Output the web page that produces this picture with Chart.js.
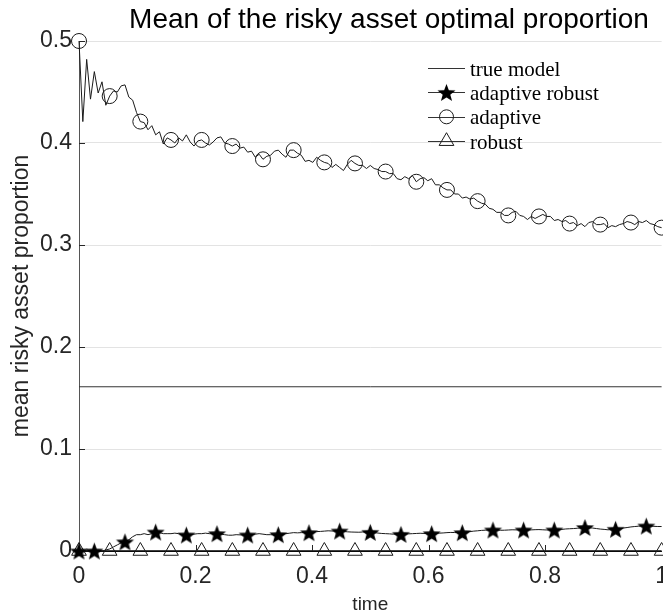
<!DOCTYPE html>
<html>
<head>
<meta charset="utf-8">
<title>Mean of the risky asset optimal proportion</title>
<script src="https://cdn.jsdelivr.net/npm/chart.js@4.4.0/dist/chart.umd.min.js"></script>
<style>
    html, body { margin: 0; padding: 0; background: #fff; overflow: hidden; }
    #wrap { width: 663px; height: 614px; overflow: hidden; }
    #myChart { display: block; }
</style>
</head>
<body>
<!-- the original figure is cropped on the right, through the last tick label -->
<div id="wrap"><canvas id="myChart" width="680" height="614"></canvas></div>
<script>
// sampling grid of the simulated paths, 152 steps over [0, 1]
var steps = 152;
var time = [];
for (var i = 0; i <= steps; i++) {
    time.push(i / steps);
}

var adaptive = [
    0.500, 0.421, 0.482, 0.443, 0.470, 0.449, 0.460, 0.437, 0.446, 0.451,
    0.450, 0.456, 0.457, 0.445, 0.442, 0.430, 0.421, 0.420, 0.413, 0.417,
    0.408, 0.411, 0.399, 0.405, 0.403, 0.400, 0.405, 0.402, 0.408, 0.401,
    0.397, 0.402, 0.403, 0.400, 0.398, 0.401, 0.405, 0.406, 0.400, 0.399,
    0.397, 0.399, 0.395, 0.396, 0.391, 0.392, 0.386, 0.389, 0.384, 0.387,
    0.388, 0.392, 0.393, 0.389, 0.386, 0.393, 0.393, 0.390, 0.388, 0.382,
    0.383, 0.381, 0.386, 0.383, 0.381, 0.380, 0.376, 0.379, 0.376, 0.373,
    0.379, 0.383, 0.380, 0.378, 0.378, 0.375, 0.378, 0.375, 0.374, 0.372,
    0.372, 0.370, 0.370, 0.365, 0.364, 0.367, 0.365, 0.368, 0.362, 0.365,
    0.366, 0.363, 0.365, 0.359, 0.359, 0.356, 0.354, 0.354, 0.350, 0.350,
    0.346, 0.347, 0.345, 0.346, 0.343, 0.341, 0.340, 0.336, 0.335, 0.332,
    0.332, 0.329, 0.329, 0.332, 0.333, 0.329, 0.328, 0.325, 0.328, 0.326,
    0.328, 0.330, 0.328, 0.328, 0.324, 0.325, 0.323, 0.324, 0.321, 0.322,
    0.319, 0.321, 0.318, 0.322, 0.323, 0.320, 0.320, 0.321, 0.317, 0.319,
    0.318, 0.320, 0.321, 0.323, 0.322, 0.320, 0.323, 0.322, 0.324, 0.321,
    0.320, 0.318, 0.317
];

var adaptiveRobust = [
    0, 0, 0, 0, 0, 0, 0, 0.001, 0.002, 0.004,
    0.006, 0.008, 0.009, 0.011, 0.014, 0.016, 0.016, 0.017, 0.016, 0.017,
    0.0186, 0.018, 0.017, 0.017, 0.017, 0.0175, 0.017, 0.016, 0.0157, 0.016,
    0.0165, 0.017, 0.017, 0.0175, 0.017, 0.017, 0.017, 0.0165, 0.016, 0.0155,
    0.0155, 0.016, 0.0158, 0.0157, 0.0157, 0.016, 0.0165, 0.017, 0.0165, 0.016,
    0.016, 0.0158, 0.016, 0.0165, 0.017, 0.0175, 0.018, 0.0178, 0.018, 0.0182,
    0.018, 0.0185, 0.019, 0.0192, 0.0195, 0.0198, 0.0196, 0.0194, 0.0196, 0.0192,
    0.0188, 0.0186, 0.0185, 0.0184, 0.0186, 0.0184, 0.0183, 0.018, 0.0176, 0.0172,
    0.017, 0.0168, 0.0165, 0.0164, 0.0163, 0.0165, 0.0168, 0.017, 0.0172, 0.0174,
    0.0172, 0.0171, 0.017, 0.0172, 0.0175, 0.0177, 0.018, 0.0182, 0.0181, 0.018,
    0.018, 0.0184, 0.019, 0.0195, 0.0198, 0.0202, 0.0204, 0.0205, 0.0206, 0.0205,
    0.0203, 0.0204, 0.0206, 0.0208, 0.0207, 0.0206, 0.0206, 0.0205, 0.0207, 0.0209,
    0.021, 0.0208, 0.0206, 0.0205, 0.0206, 0.0208, 0.0212, 0.0216, 0.0218, 0.022,
    0.0223, 0.0226, 0.023, 0.0228, 0.0225, 0.022, 0.0215, 0.0212, 0.0208, 0.021,
    0.0213, 0.0218, 0.0225, 0.023, 0.0236, 0.024, 0.0243, 0.0244, 0.0245, 0.0243,
    0.0242, 0.024, 0.024
];

var robustTime = [0, 0.0526, 0.1053, 0.1579, 0.2105, 0.2632, 0.3158, 0.3684, 0.4211, 0.4737,
    0.5263, 0.5789, 0.6316, 0.6842, 0.7368, 0.7895, 0.8421, 0.8947, 0.9474, 1];
var robust = [0, 0, 0, 0, 0, 0, 0, 0, 0, 0, 0, 0, 0, 0, 0, 0, 0, 0, 0, 0];

var trueTime = [0, 1];
var trueModel = [0.161, 0.161];

var legendOrder = ['true model', 'adaptive robust', 'adaptive', 'robust'];
var xTickLabels = ['0', '0.2', '0.4', '0.6', '0.8', '1'];
var yTickLabels = ['0', '0.1', '0.2', '0.3', '0.4', '0.5'];

var SANS = '"Liberation Sans", Arial, Helvetica, sans-serif';
var SERIF = '"Liberation Serif", "Times New Roman", serif';

function toPoints(xs, ys) {
    return ys.map(function (y, k) { return { x: xs[k], y: y }; });
}

// filled pentagram used as marker
function makeStar(r) {
    var c = document.createElement('canvas');
    var s = Math.ceil(r * 2 + 2);
    c.width = s;
    c.height = s;
    var g = c.getContext('2d');
    var cx = s / 2, cy = s / 2 + r * 0.0955;
    g.beginPath();
    for (var k = 0; k < 10; k++) {
        var rr = k % 2 ? r * 0.42 : r;
        var a = -Math.PI / 2 + k * Math.PI / 5;
        g.lineTo(cx + rr * Math.cos(a), cy + rr * Math.sin(a));
    }
    g.closePath();
    g.fillStyle = '#000';
    g.fill();
    return c;
}
var starImg = makeStar(9.5);

function drawMarker(c, kind, x, y) {
    c.save();
    c.strokeStyle = '#1a1a1a';
    c.lineWidth = 1;
    if (kind === 'star') {
        c.drawImage(starImg, x - starImg.width / 2, y - starImg.height / 2);
    } else if (kind === 'circle') {
        c.beginPath();
        c.arc(x, y, 7, 0, Math.PI * 2);
        c.stroke();
    } else if (kind === 'triangle') {
        var r = 8.5;
        c.beginPath();
        c.moveTo(x, y - r);
        c.lineTo(x + r * 0.866, y + r / 2);
        c.lineTo(x - r * 0.866, y + r / 2);
        c.closePath();
        c.stroke();
    }
    c.restore();
}

// title, inner tick marks and the legend
var decor = {
    id: 'decor',
    afterDraw: function (chart) {
        var c = chart.ctx;
        var a = chart.chartArea;
        var xs = chart.scales.x, ys = chart.scales.y;
        c.save();

        c.fillStyle = '#000';
        c.font = '28px ' + SANS;
        c.textAlign = 'center';
        c.textBaseline = 'alphabetic';
        c.fillText('Mean of the risky asset optimal proportion', 389, 28);

        c.strokeStyle = '#262626';
        c.lineWidth = 1;
        c.beginPath();
        ys.ticks.forEach(function (t) {
            if (t.value <= 0) return;
            var py = Math.round(ys.getPixelForValue(t.value)) + 0.5;
            c.moveTo(a.left, py);
            c.lineTo(a.left + 6, py);
        });
        xs.ticks.forEach(function (t) {
            if (t.value <= 0 || t.value >= 1) return;
            var px = Math.round(xs.getPixelForValue(t.value)) + 0.5;
            c.moveTo(px, a.bottom);
            c.lineTo(px, a.bottom - 6);
        });
        c.stroke();

        c.font = '21px ' + SERIF;
        c.textAlign = 'left';
        c.textBaseline = 'alphabetic';
        legendOrder.forEach(function (name, k) {
            var ds = chart.data.datasets.filter(function (d) { return d.label === name; })[0];
            var y = 68 + k * 24.4;
            c.strokeStyle = '#333';
            c.lineWidth = 1;
            c.beginPath();
            c.moveTo(428, Math.round(y) + 0.5);
            c.lineTo(465, Math.round(y) + 0.5);
            c.stroke();
            drawMarker(c, ds.legendMarker, 446.5, y);
            c.fillStyle = '#000';
            c.fillText(name, 470, y + 7.5);
        });
        c.restore();
    }
};

var ctx = document.getElementById('myChart').getContext('2d');
var chart = new Chart(ctx, {
    type: 'line',
    data: {
        datasets: [{
            label: 'adaptive robust',
            legendMarker: 'star',
            data: toPoints(time, adaptiveRobust),
            borderColor: '#1a1a1a',
            borderWidth: 1,
            pointStyle: starImg,
            pointRadius: function (c) { return (c.dataIndex === 0 || c.dataIndex % 8 === 4) ? 9 : 0; },
            clip: false
        }, {
            label: 'adaptive',
            legendMarker: 'circle',
            data: toPoints(time, adaptive),
            borderColor: '#1a1a1a',
            borderWidth: 1,
            pointStyle: 'circle',
            pointRadius: function (c) { return c.dataIndex % 8 === 0 ? 7.5 : 0; },
            pointBorderColor: '#1a1a1a',
            pointBackgroundColor: 'transparent',
            pointBorderWidth: 1,
            clip: false
        }, {
            label: 'robust',
            legendMarker: 'triangle',
            data: toPoints(robustTime, robust),
            borderColor: '#000',
            borderWidth: 1.5,
            pointStyle: 'triangle',
            pointRadius: 8.5,
            pointBorderColor: '#1a1a1a',
            pointBackgroundColor: 'transparent',
            pointBorderWidth: 1,
            clip: false
        }, {
            label: 'true model',
            legendMarker: null,
            data: toPoints(trueTime, trueModel),
            borderColor: '#333',
            borderWidth: 1,
            pointRadius: 0,
            clip: false
        }]
    },
    options: {
        responsive: false,
        animation: false,
        events: [],
        layout: { padding: { left: 0, right: 0, top: 41, bottom: 0 } },
        plugins: {
            legend: { display: false },
            title: { display: false },
            tooltip: { enabled: false }
        },
        scales: {
            x: {
                type: 'linear',
                min: 0,
                max: 1,
                afterFit: function (s) { s.height = 63; },
                ticks: {
                    stepSize: 0.2,
                    padding: 12,
                    maxRotation: 0,
                    color: '#262626',
                    font: { family: SANS, size: 23 },
                    callback: function (v) { return xTickLabels[Math.round(v * 5)]; }
                },
                grid: { drawOnChartArea: false, drawTicks: false },
                border: { color: '#262626', width: 1 },
                title: {
                    display: true,
                    text: 'time',
                    color: '#262626',
                    font: { family: SANS, size: 19, lineHeight: 1 },
                    padding: 0
                }
            },
            y: {
                type: 'linear',
                min: 0,
                max: 0.5,
                afterFit: function (s) { s.width = 79; },
                ticks: {
                    stepSize: 0.1,
                    padding: 7,
                    color: '#262626',
                    font: { family: SANS, size: 23 },
                    callback: function (v) { return yTickLabels[Math.round(v * 10)]; }
                },
                grid: { color: '#e3e3e3', lineWidth: 1, drawTicks: false },
                border: { color: '#555', width: 1 },
                title: {
                    display: true,
                    text: 'mean risky asset proportion',
                    color: '#262626',
                    font: { family: SANS, size: 23 },
                    padding: { top: 8, bottom: 0 }
                }
            }
        }
    },
    plugins: [decor]
});
</script>
</body>
</html>
